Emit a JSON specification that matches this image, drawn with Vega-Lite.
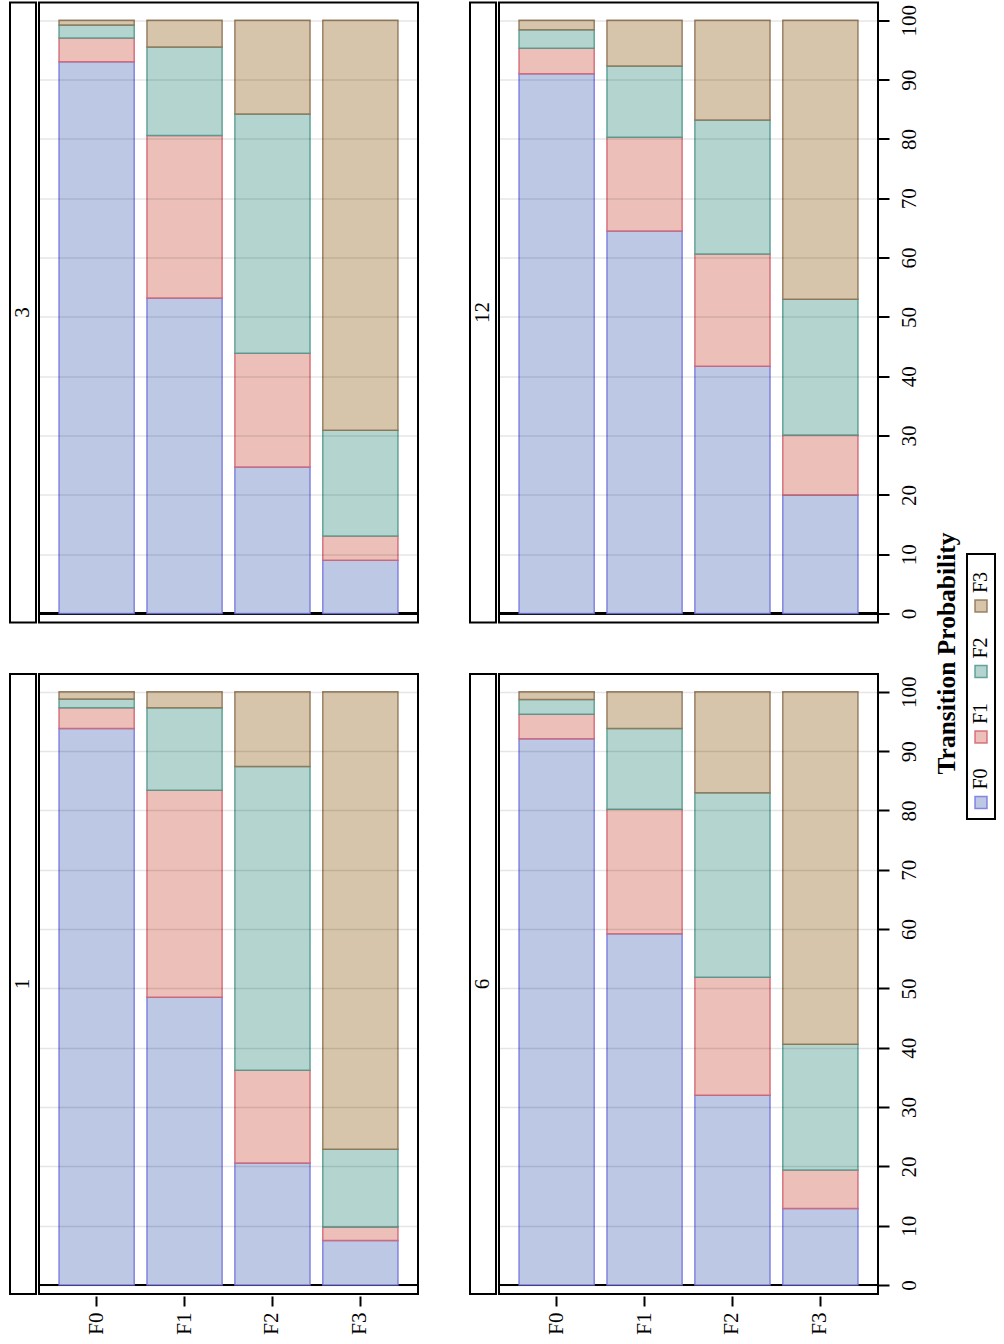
{
  "$schema": "https://vega.github.io/schema/vega-lite/v6.json",
  "padding": {"left": 9, "top": 1.5, "right": 0, "bottom": 0},
  "config": {
    "font": "Liberation Serif",
    "view": {"stroke": "black", "strokeWidth": 2},
    "text": {"color": "black"}
  },
  "datasets": {
    "horizons": [{"horizon": 1}, {"horizon": 3}, {"horizon": 6}, {"horizon": 12}],
    "states": [{"state": "F0"}, {"state": "F1"}, {"state": "F2"}, {"state": "F3"}],
    "transitions": [
      {"horizon": 1, "from": "F0", "to": "F0", "prob": 93.8},
      {"horizon": 1, "from": "F0", "to": "F1", "prob": 3.5},
      {"horizon": 1, "from": "F0", "to": "F2", "prob": 1.5},
      {"horizon": 1, "from": "F0", "to": "F3", "prob": 1.2},
      {"horizon": 1, "from": "F1", "to": "F0", "prob": 48.5},
      {"horizon": 1, "from": "F1", "to": "F1", "prob": 34.9},
      {"horizon": 1, "from": "F1", "to": "F2", "prob": 13.9},
      {"horizon": 1, "from": "F1", "to": "F3", "prob": 2.7},
      {"horizon": 1, "from": "F2", "to": "F0", "prob": 20.6},
      {"horizon": 1, "from": "F2", "to": "F1", "prob": 15.6},
      {"horizon": 1, "from": "F2", "to": "F2", "prob": 51.2},
      {"horizon": 1, "from": "F2", "to": "F3", "prob": 12.6},
      {"horizon": 1, "from": "F3", "to": "F0", "prob": 7.5},
      {"horizon": 1, "from": "F3", "to": "F1", "prob": 2.3},
      {"horizon": 1, "from": "F3", "to": "F2", "prob": 13.1},
      {"horizon": 1, "from": "F3", "to": "F3", "prob": 77.1},
      {"horizon": 3, "from": "F0", "to": "F0", "prob": 93.0},
      {"horizon": 3, "from": "F0", "to": "F1", "prob": 4.0},
      {"horizon": 3, "from": "F0", "to": "F2", "prob": 2.2},
      {"horizon": 3, "from": "F0", "to": "F3", "prob": 0.8},
      {"horizon": 3, "from": "F1", "to": "F0", "prob": 53.2},
      {"horizon": 3, "from": "F1", "to": "F1", "prob": 27.4},
      {"horizon": 3, "from": "F1", "to": "F2", "prob": 14.9},
      {"horizon": 3, "from": "F1", "to": "F3", "prob": 4.5},
      {"horizon": 3, "from": "F2", "to": "F0", "prob": 24.7},
      {"horizon": 3, "from": "F2", "to": "F1", "prob": 19.2},
      {"horizon": 3, "from": "F2", "to": "F2", "prob": 40.3},
      {"horizon": 3, "from": "F2", "to": "F3", "prob": 15.8},
      {"horizon": 3, "from": "F3", "to": "F0", "prob": 9.0},
      {"horizon": 3, "from": "F3", "to": "F1", "prob": 4.1},
      {"horizon": 3, "from": "F3", "to": "F2", "prob": 17.8},
      {"horizon": 3, "from": "F3", "to": "F3", "prob": 69.1},
      {"horizon": 6, "from": "F0", "to": "F0", "prob": 92.1},
      {"horizon": 6, "from": "F0", "to": "F1", "prob": 4.1},
      {"horizon": 6, "from": "F0", "to": "F2", "prob": 2.5},
      {"horizon": 6, "from": "F0", "to": "F3", "prob": 1.3},
      {"horizon": 6, "from": "F1", "to": "F0", "prob": 59.2},
      {"horizon": 6, "from": "F1", "to": "F1", "prob": 21.0},
      {"horizon": 6, "from": "F1", "to": "F2", "prob": 13.6},
      {"horizon": 6, "from": "F1", "to": "F3", "prob": 6.2},
      {"horizon": 6, "from": "F2", "to": "F0", "prob": 32.0},
      {"horizon": 6, "from": "F2", "to": "F1", "prob": 19.9},
      {"horizon": 6, "from": "F2", "to": "F2", "prob": 31.1},
      {"horizon": 6, "from": "F2", "to": "F3", "prob": 17.0},
      {"horizon": 6, "from": "F3", "to": "F0", "prob": 12.9},
      {"horizon": 6, "from": "F3", "to": "F1", "prob": 6.5},
      {"horizon": 6, "from": "F3", "to": "F2", "prob": 21.2},
      {"horizon": 6, "from": "F3", "to": "F3", "prob": 59.4},
      {"horizon": 12, "from": "F0", "to": "F0", "prob": 91.0},
      {"horizon": 12, "from": "F0", "to": "F1", "prob": 4.3},
      {"horizon": 12, "from": "F0", "to": "F2", "prob": 3.1},
      {"horizon": 12, "from": "F0", "to": "F3", "prob": 1.6},
      {"horizon": 12, "from": "F1", "to": "F0", "prob": 64.5},
      {"horizon": 12, "from": "F1", "to": "F1", "prob": 15.8},
      {"horizon": 12, "from": "F1", "to": "F2", "prob": 12.0},
      {"horizon": 12, "from": "F1", "to": "F3", "prob": 7.7},
      {"horizon": 12, "from": "F2", "to": "F0", "prob": 41.7},
      {"horizon": 12, "from": "F2", "to": "F1", "prob": 18.9},
      {"horizon": 12, "from": "F2", "to": "F2", "prob": 22.6},
      {"horizon": 12, "from": "F2", "to": "F3", "prob": 16.8},
      {"horizon": 12, "from": "F3", "to": "F0", "prob": 20.0},
      {"horizon": 12, "from": "F3", "to": "F1", "prob": 10.1},
      {"horizon": 12, "from": "F3", "to": "F2", "prob": 22.9},
      {"horizon": 12, "from": "F3", "to": "F3", "prob": 47.0}
    ]
  },
  "hconcat": [
    {
      "vconcat": [
        {
          "hconcat": [
            {
              "hconcat": [
                {
                  "width": 26, "height": 620,
                  "view": {"stroke": null},
                  "data": {"name": "horizons"},
                  "transform": [{"filter": "datum.horizon == 3"}],
                  "layer": [
                    {"mark": {"type": "rect", "fill": "white", "stroke": "black", "strokeWidth": 2}},
                    {"mark": {"type": "text", "angle": 270, "fontSize": 21, "align": "center", "baseline": "middle"},
                     "encoding": {"text": {"field": "horizon", "type": "nominal"}}}
                  ]
                },
                {
                  "width": 379, "height": 620,
                  "data": {"name": "transitions"},
                  "transform": [{"filter": "datum.horizon == 3"}],
                  "layer": [
                    {
                      "mark": {"type": "rule", "color": "black", "strokeWidth": 2},
                      "encoding": {"y": {"datum": 0, "type": "quantitative"}}
                    },
                    {
                      "mark": {"type": "bar", "strokeWidth": 1.5, "strokeOpacity": 0.85},
                      "encoding": {
                        "x": {"field": "from", "type": "nominal", "scale": {"type": "band", "domain": ["F0", "F1", "F2", "F3"], "paddingInner": 0.145, "paddingOuter": 0.228}, "axis": null},
                        "y": {"field": "prob", "type": "quantitative", "stack": "zero", "scale": {"domain": [-1.5, 103], "nice": false, "zero": false},
                          "axis": {"orient": "right", "values": [0, 10, 20, 30, 40, 50, 60, 70, 80, 90, 100], "grid": true, "gridColor": "black", "gridOpacity": 0.1, "gridWidth": 1.5, "labels": false, "ticks": false, "domain": false, "title": null, "zindex": 1}},
                        "fill": {"field": "to", "type": "nominal", "scale": {"domain": ["F0", "F1", "F2", "F3"], "range": ["#bcc8e4", "#ecbfb8", "#b4d4d0", "#d6c5ab"]}, "legend": null},
                        "stroke": {"field": "to", "type": "nominal", "scale": {"domain": ["F0", "F1", "F2", "F3"], "range": ["#7474de", "#d0606e", "#4f968a", "#8c7050"]}, "legend": null},
                        "order": {"field": "to", "sort": "ascending"}
                      }
                    }
                  ]
                }
              ],
              "spacing": 0
            },
            {
              "hconcat": [
                {
                  "width": 26, "height": 620,
                  "view": {"stroke": null},
                  "data": {"name": "horizons"},
                  "transform": [{"filter": "datum.horizon == 12"}],
                  "layer": [
                    {"mark": {"type": "rect", "fill": "white", "stroke": "black", "strokeWidth": 2}},
                    {"mark": {"type": "text", "angle": 270, "fontSize": 21, "align": "center", "baseline": "middle"},
                     "encoding": {"text": {"field": "horizon", "type": "nominal"}}}
                  ]
                },
                {
                  "width": 379, "height": 620,
                  "data": {"name": "transitions"},
                  "transform": [{"filter": "datum.horizon == 12"}],
                  "layer": [
                    {
                      "mark": {"type": "rule", "color": "black", "strokeWidth": 2},
                      "encoding": {"y": {"datum": 0, "type": "quantitative"}}
                    },
                    {
                      "mark": {"type": "bar", "strokeWidth": 1.5, "strokeOpacity": 0.85},
                      "encoding": {
                        "x": {"field": "from", "type": "nominal", "scale": {"type": "band", "domain": ["F0", "F1", "F2", "F3"], "paddingInner": 0.145, "paddingOuter": 0.228}, "axis": null},
                        "y": {"field": "prob", "type": "quantitative", "stack": "zero", "scale": {"domain": [-1.5, 103], "nice": false, "zero": false},
                          "axis": {"orient": "right", "values": [0, 10, 20, 30, 40, 50, 60, 70, 80, 90, 100], "grid": true, "gridColor": "black", "gridOpacity": 0.1, "gridWidth": 1.5, "labels": true, "labelAngle": 270, "labelAlign": "center", "labelBaseline": "middle", "labelPadding": 20, "labelFontSize": 21, "labelColor": "black", "labelFlush": false, "labelOverlap": false, "ticks": true, "tickSize": 11, "tickWidth": 2, "tickColor": "black", "domain": false, "title": null, "zindex": 1}},
                        "fill": {"field": "to", "type": "nominal", "scale": {"domain": ["F0", "F1", "F2", "F3"], "range": ["#bcc8e4", "#ecbfb8", "#b4d4d0", "#d6c5ab"]}, "legend": null},
                        "stroke": {"field": "to", "type": "nominal", "scale": {"domain": ["F0", "F1", "F2", "F3"], "range": ["#7474de", "#d0606e", "#4f968a", "#8c7050"]}, "legend": null},
                        "order": {"field": "to", "sort": "ascending"}
                      }
                    }
                  ]
                }
              ],
              "spacing": 0
            }
          ],
          "spacing": 49
        },
        {
          "hconcat": [
            {
              "hconcat": [
                {
                  "width": 26, "height": 620,
                  "view": {"stroke": null},
                  "data": {"name": "horizons"},
                  "transform": [{"filter": "datum.horizon == 1"}],
                  "layer": [
                    {"mark": {"type": "rect", "fill": "white", "stroke": "black", "strokeWidth": 2}},
                    {"mark": {"type": "text", "angle": 270, "fontSize": 21, "align": "center", "baseline": "middle"},
                     "encoding": {"text": {"field": "horizon", "type": "nominal"}}}
                  ]
                },
                {
                  "width": 379, "height": 620,
                  "data": {"name": "transitions"},
                  "transform": [{"filter": "datum.horizon == 1"}],
                  "layer": [
                    {
                      "mark": {"type": "rule", "color": "black", "strokeWidth": 2},
                      "encoding": {"y": {"datum": 0, "type": "quantitative"}}
                    },
                    {
                      "mark": {"type": "bar", "strokeWidth": 1.5, "strokeOpacity": 0.85},
                      "encoding": {
                        "x": {"field": "from", "type": "nominal", "scale": {"type": "band", "domain": ["F0", "F1", "F2", "F3"], "paddingInner": 0.145, "paddingOuter": 0.228},
                          "axis": {"orient": "bottom", "labelAngle": 270, "labelAlign": "right", "labelBaseline": "middle", "labelPadding": 6, "labelFontSize": 21, "labelColor": "black", "tickSize": 10, "tickWidth": 2, "tickColor": "black", "offset": 2, "domain": false, "grid": false, "title": null}},
                        "y": {"field": "prob", "type": "quantitative", "stack": "zero", "scale": {"domain": [-1.5, 103], "nice": false, "zero": false},
                          "axis": {"orient": "right", "values": [0, 10, 20, 30, 40, 50, 60, 70, 80, 90, 100], "grid": true, "gridColor": "black", "gridOpacity": 0.1, "gridWidth": 1.5, "labels": false, "ticks": false, "domain": false, "title": null, "zindex": 1}},
                        "fill": {"field": "to", "type": "nominal", "scale": {"domain": ["F0", "F1", "F2", "F3"], "range": ["#bcc8e4", "#ecbfb8", "#b4d4d0", "#d6c5ab"]}, "legend": null},
                        "stroke": {"field": "to", "type": "nominal", "scale": {"domain": ["F0", "F1", "F2", "F3"], "range": ["#7474de", "#d0606e", "#4f968a", "#8c7050"]}, "legend": null},
                        "order": {"field": "to", "sort": "ascending"}
                      }
                    }
                  ]
                }
              ],
              "spacing": 0
            },
            {
              "hconcat": [
                {
                  "width": 26, "height": 620,
                  "view": {"stroke": null},
                  "data": {"name": "horizons"},
                  "transform": [{"filter": "datum.horizon == 6"}],
                  "layer": [
                    {"mark": {"type": "rect", "fill": "white", "stroke": "black", "strokeWidth": 2}},
                    {"mark": {"type": "text", "angle": 270, "fontSize": 21, "align": "center", "baseline": "middle"},
                     "encoding": {"text": {"field": "horizon", "type": "nominal"}}}
                  ]
                },
                {
                  "width": 379, "height": 620,
                  "data": {"name": "transitions"},
                  "transform": [{"filter": "datum.horizon == 6"}],
                  "layer": [
                    {
                      "mark": {"type": "rule", "color": "black", "strokeWidth": 2},
                      "encoding": {"y": {"datum": 0, "type": "quantitative"}}
                    },
                    {
                      "mark": {"type": "bar", "strokeWidth": 1.5, "strokeOpacity": 0.85},
                      "encoding": {
                        "x": {"field": "from", "type": "nominal", "scale": {"type": "band", "domain": ["F0", "F1", "F2", "F3"], "paddingInner": 0.145, "paddingOuter": 0.228},
                          "axis": {"orient": "bottom", "labelAngle": 270, "labelAlign": "right", "labelBaseline": "middle", "labelPadding": 6, "labelFontSize": 21, "labelColor": "black", "tickSize": 10, "tickWidth": 2, "tickColor": "black", "offset": 2, "domain": false, "grid": false, "title": null}},
                        "y": {"field": "prob", "type": "quantitative", "stack": "zero", "scale": {"domain": [-1.5, 103], "nice": false, "zero": false},
                          "axis": {"orient": "right", "values": [0, 10, 20, 30, 40, 50, 60, 70, 80, 90, 100], "grid": true, "gridColor": "black", "gridOpacity": 0.1, "gridWidth": 1.5, "labels": true, "labelAngle": 270, "labelAlign": "center", "labelBaseline": "middle", "labelPadding": 20, "labelFontSize": 21, "labelColor": "black", "labelFlush": false, "labelOverlap": false, "ticks": true, "tickSize": 11, "tickWidth": 2, "tickColor": "black", "domain": false, "title": null, "zindex": 1}},
                        "fill": {"field": "to", "type": "nominal", "scale": {"domain": ["F0", "F1", "F2", "F3"], "range": ["#bcc8e4", "#ecbfb8", "#b4d4d0", "#d6c5ab"]}, "legend": null},
                        "stroke": {"field": "to", "type": "nominal", "scale": {"domain": ["F0", "F1", "F2", "F3"], "range": ["#7474de", "#d0606e", "#4f968a", "#8c7050"]}, "legend": null},
                        "order": {"field": "to", "sort": "ascending"}
                      }
                    }
                  ]
                }
              ],
              "spacing": 0
            }
          ],
          "spacing": 49
        }
      ],
      "spacing": 49.5
    },
    {
      "hconcat": [
        {
          "width": 38, "height": 1302,
          "view": {"stroke": null},
          "data": {"values": [{"label": "Transition Probability"}]},
          "mark": {"type": "text", "angle": 270, "fontSize": 25.5, "fontWeight": "bold", "align": "center", "baseline": "middle"},
          "encoding": {"text": {"field": "label", "type": "nominal"}}
        },
        {
          "vconcat": [
            {
              "width": 28, "height": 1,
              "view": {"stroke": null},
              "data": {"values": []},
              "mark": {"type": "point"},
              "encoding": {}
            },
            {
              "width": 28, "height": 265,
              "view": {"stroke": "black", "strokeWidth": 2},
              "data": {"name": "states"},
              "layer": [
                {
                  "mark": {"type": "point", "shape": "square", "size": 144, "filled": true, "opacity": 1, "strokeWidth": 1.5, "strokeOpacity": 0.85},
                  "encoding": {
                    "y": {"field": "state", "type": "ordinal", "scale": {"type": "point", "domain": ["F3", "F2", "F1", "F0"], "range": [52, 248.5], "padding": 0}, "axis": null},
                    "fill": {"field": "state", "type": "nominal", "scale": {"domain": ["F0", "F1", "F2", "F3"], "range": ["#bcc8e4", "#ecbfb8", "#b4d4d0", "#d6c5ab"]}, "legend": null},
                    "stroke": {"field": "state", "type": "nominal", "scale": {"domain": ["F0", "F1", "F2", "F3"], "range": ["#7474de", "#d0606e", "#4f968a", "#8c7050"]}, "legend": null}
                  }
                },
                {
                  "mark": {"type": "text", "angle": 270, "align": "left", "baseline": "middle", "dx": 13, "fontSize": 20},
                  "encoding": {
                    "y": {"field": "state", "type": "ordinal", "scale": {"type": "point", "domain": ["F3", "F2", "F1", "F0"], "range": [52, 248.5], "padding": 0}, "axis": null},
                    "text": {"field": "state", "type": "nominal"}
                  }
                }
              ]
            }
          ],
          "spacing": 549.5
        }
      ],
      "spacing": 0
    }
  ],
  "spacing": 8
}
